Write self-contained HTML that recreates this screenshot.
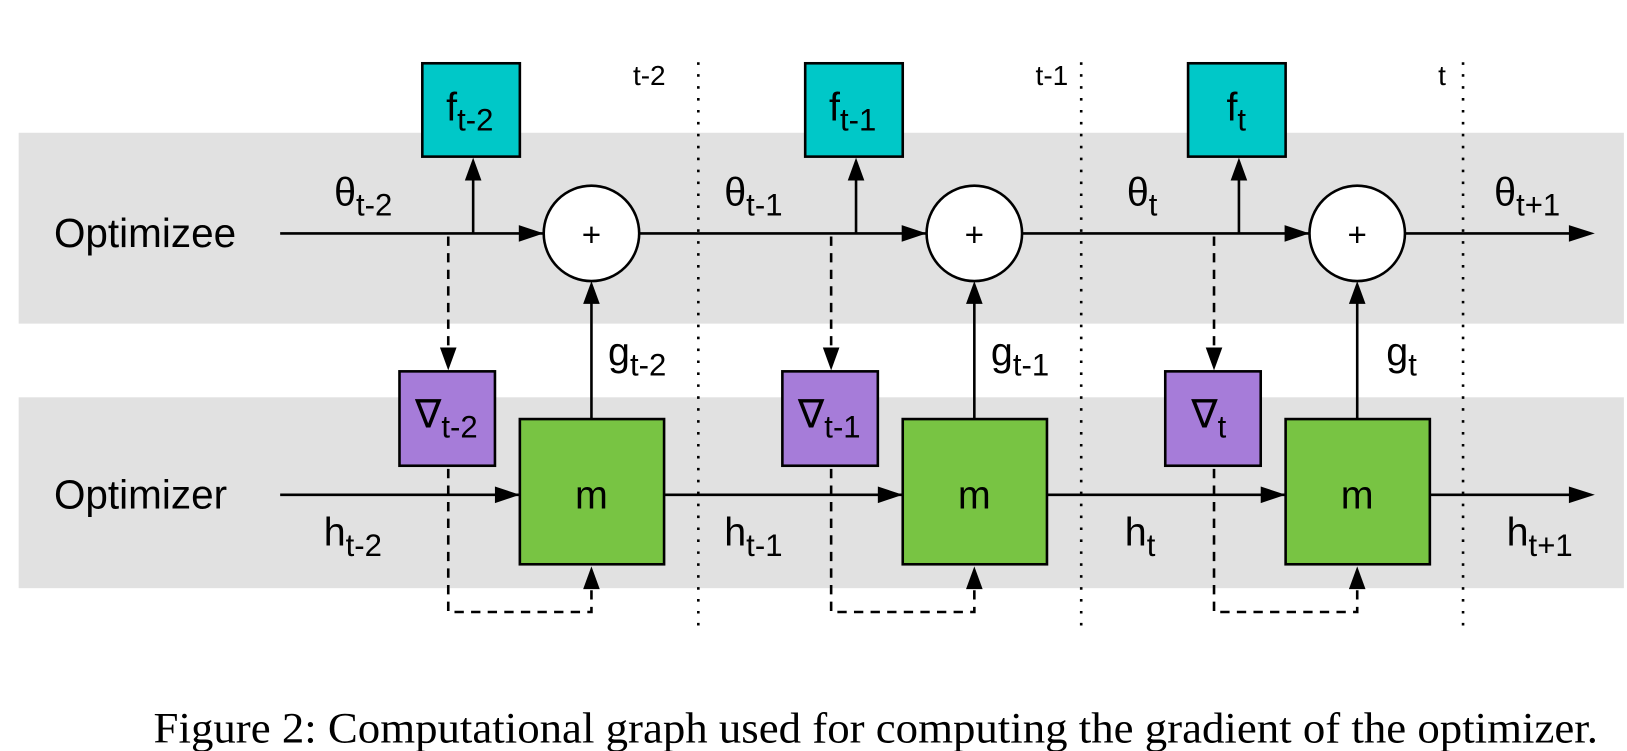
<!DOCTYPE html>
<html><head><meta charset="utf-8"><style>
html,body{margin:0;padding:0;background:#fff;}
svg{display:block;}
text{font-family:"Liberation Sans",sans-serif;fill:#000;}
</style></head><body>
<svg width="1627" height="751" viewBox="0 0 1568 724" preserveAspectRatio="none" xmlns="http://www.w3.org/2000/svg">
<rect x="18" y="128" width="1547" height="184" fill="#e1e1e1"/>
<rect x="18" y="383" width="1547" height="184" fill="#e1e1e1"/>
<g font-size="39">
<text x="52" y="238">Optimizee</text>
<text x="52" y="490">Optimizer</text>
</g>
<g stroke="#000" stroke-width="2.5" stroke-dasharray="2.5,9">
<line x1="673" y1="60" x2="673" y2="607"/>
<line x1="1042" y1="60" x2="1042" y2="607"/>
<line x1="1410" y1="60" x2="1410" y2="607"/>
</g>
<g font-size="27">
<text x="610" y="82">t-2</text>
<text x="998" y="82">t-1</text>
<text x="1386" y="82">t</text>
</g>
<g stroke="#000" stroke-width="2.5" fill="none">
<line x1="270" y1="225" x2="1515" y2="225"/>
<line x1="270" y1="477" x2="1515" y2="477"/>
</g>
<polygon points="1537,225 1512,217 1512,233" fill="#000"/>
<polygon points="1537,477 1512,469 1512,485" fill="#000"/>
<g id="unit">
<g stroke="#000" stroke-width="2.5" fill="none">
<line x1="456" y1="225" x2="456" y2="170"/>
<line x1="570" y1="404" x2="570" y2="290"/>
<path d="M432 228 V340" stroke-dasharray="9,7"/>
<path d="M432 452 V590 H570 V565" stroke-dasharray="9,7"/>
</g>
<polygon points="456,152 448,174 464,174" fill="#000"/>
<polygon points="570,271 562,293 578,293" fill="#000"/>
<polygon points="432,357 424,335 440,335" fill="#000"/>
<polygon points="570,546 562,568 578,568" fill="#000"/>
<polygon points="524,225 500,217 500,233" fill="#000"/>
<polygon points="501,477 477,469 477,485" fill="#000"/>
<rect x="407" y="61" width="94" height="90" fill="#00c8c8" stroke="#000" stroke-width="2.5"/>
<rect x="385" y="358" width="92" height="91" fill="#a67cd9" stroke="#000" stroke-width="2.5"/>
<rect x="501" y="404" width="139" height="140" fill="#78c443" stroke="#000" stroke-width="2.5"/>
<circle cx="570" cy="225" r="46" fill="#fff" stroke="#000" stroke-width="2.5"/>
<text x="570" y="237" font-size="32" text-anchor="middle">+</text>
<text x="570" y="490" font-size="38" text-anchor="middle">m</text>
</g>
<use href="#unit" transform="translate(369,0)"/>
<use href="#unit" transform="translate(738,0)"/>
<g font-size="38">
<text x="430" y="116">f<tspan font-size="30" dy="10">t-2</tspan></text>
<text x="799" y="116">f<tspan font-size="30" dy="10">t-1</tspan></text>
<text x="1182" y="116">f<tspan font-size="30" dy="10">t</tspan></text>
<text x="400" y="412">∇<tspan font-size="30" dy="10">t-2</tspan></text>
<text x="769" y="412">∇<tspan font-size="30" dy="10">t-1</tspan></text>
<text x="1148" y="412">∇<tspan font-size="30" dy="10">t</tspan></text>
<text x="322" y="198">θ<tspan font-size="30" dy="10">t-2</tspan></text>
<text x="698" y="198">θ<tspan font-size="30" dy="10">t-1</tspan></text>
<text x="1086" y="198">θ<tspan font-size="30" dy="10">t</tspan></text>
<text x="1440" y="198">θ<tspan font-size="30" dy="10">t+1</tspan></text>
<text x="586" y="352">g<tspan font-size="30" dy="10">t-2</tspan></text>
<text x="955" y="352">g<tspan font-size="30" dy="10">t-1</tspan></text>
<text x="1336" y="352">g<tspan font-size="30" dy="10">t</tspan></text>
<text x="312" y="526">h<tspan font-size="30" dy="10">t-2</tspan></text>
<text x="698" y="526">h<tspan font-size="30" dy="10">t-1</tspan></text>
<text x="1084" y="526">h<tspan font-size="30" dy="10">t</tspan></text>
<text x="1452" y="526">h<tspan font-size="30" dy="10">t+1</tspan></text>
</g>
<text x="148" y="716" font-size="42" textLength="1392" lengthAdjust="spacingAndGlyphs" style="font-family:'Liberation Serif',serif">Figure 2: Computational graph used for computing the gradient of the optimizer.</text>
</svg>
</body></html>
